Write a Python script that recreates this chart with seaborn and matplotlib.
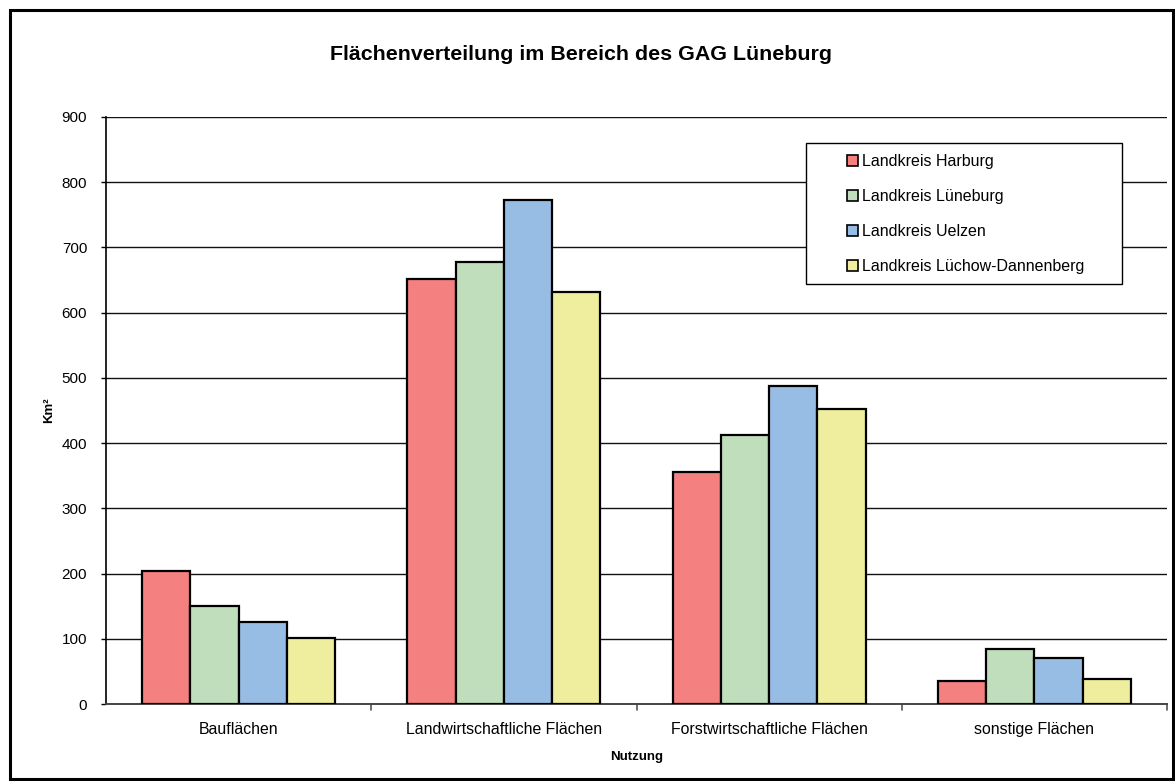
import matplotlib
matplotlib.use("Agg")
import matplotlib.pyplot as plt
from matplotlib.patches import Rectangle
import seaborn as sns
import pandas as pd

categories = ["Bauflächen", "Landwirtschaftliche Flächen",
              "Forstwirtschaftliche Flächen", "sonstige Flächen"]
series_names = ["Landkreis Harburg", "Landkreis Lüneburg",
                "Landkreis Uelzen", "Landkreis Lüchow-Dannenberg"]
harburg = [204, 652, 355, 36]
lueneburg = [150, 678, 413, 84]
uelzen = [126, 773, 488, 70]
luechow = [101, 632, 453, 38]
y_ticks = [0, 100, 200, 300, 400, 500, 600, 700, 800, 900]

colors = ["#F48080", "#C0DEBC", "#98BDE4", "#EEEE9E"]

rows = []
for name, vals in zip(series_names, [harburg, lueneburg, uelzen, luechow]):
    for cat, v in zip(categories, vals):
        rows.append({"Nutzung": cat, "Landkreis": name, "Km²": v})
df = pd.DataFrame(rows)

sns.set_theme(style="white")
plt.rcParams["font.family"] = ["Liberation Sans", "DejaVu Sans"]
plt.rcParams.update({"text.color": "black", "axes.labelcolor": "black",
                     "xtick.color": "black", "ytick.color": "black"})

W, H = 1175, 781
fig = plt.figure(figsize=(W / 100, H / 100), dpi=100)
ax = fig.add_axes([106 / W, (H - 704) / H, 1061 / W, 587 / H])

sns.barplot(data=df, x="Nutzung", y="Km²", hue="Landkreis",
            order=categories, hue_order=series_names, palette=colors,
            width=0.727, gap=0, edgecolor="black", linewidth=1.6,
            saturation=1, errorbar=None, ax=ax, zorder=3)

ax.set_ylim(0, 900)
ax.set_xlim(-0.5, 3.5)
ax.set_yticks(y_ticks)
ax.set_yticklabels([str(t) for t in y_ticks], fontsize=11)
ax.set_xticks([0, 1, 2, 3])
ax.set_xticklabels(categories, fontsize=11.4)
ax.tick_params(axis="x", length=0, pad=13)
ax.tick_params(axis="y", length=3.5, width=1, direction="out", left=True,
               color="black", pad=10)
# tick marks between categories
for b in [0.5, 1.5, 2.5, 3.5]:
    ax.plot([b, b], [0, -0.01], transform=ax.get_xaxis_transform(),
            color="#555555", lw=1.2, clip_on=False)

ax.yaxis.grid(True, color="#111111", linewidth=1.0, zorder=0)
ax.set_axisbelow(True)
for side in ["top", "right"]:
    ax.spines[side].set_visible(False)
ax.spines["left"].set_color("black")
ax.spines["left"].set_linewidth(1.2)
ax.spines["bottom"].set_color("#444444")
ax.spines["bottom"].set_linewidth(1.4)

ax.set_xlabel("Nutzung", fontsize=9.5, fontweight="bold", labelpad=10)
ax.set_ylabel("Km²", fontsize=9.5, fontweight="bold", labelpad=5)

# legend box: white frame drawn separately for its wide side margins
handles, labels = ax.get_legend_handles_labels()
ax.get_legend().remove()
ax.add_patch(Rectangle((806 / W, (H - 284) / H), 316 / W, 141 / H,
                       transform=fig.transFigure, facecolor="white",
                       edgecolor="black", linewidth=1.0, zorder=6,
                       clip_on=False))
leg = ax.legend(handles, labels, loc="upper left",
                bbox_to_anchor=(847 / W, (H - 154) / H),
                bbox_transform=fig.transFigure,
                fontsize=11.5, frameon=False, handlelength=0.66,
                handleheight=0.66, handletextpad=0.27, labelspacing=1.25,
                borderpad=0, borderaxespad=0)
leg.set_zorder(7)
for h in leg.legend_handles:
    h.set_edgecolor("black")
    h.set_linewidth(1.2)

fig.text(580.5 / W, 1 - 55 / H, "Flächenverteilung im Bereich des GAG Lüneburg",
         ha="center", va="center", fontsize=15.4, fontweight="bold")

fig.patches.append(Rectangle((10 / W, 2 / H), 1163 / W, 769 / H,
                             transform=fig.transFigure, fill=False,
                             edgecolor="black", linewidth=2.2))

fig.savefig("out.png", dpi=100)
